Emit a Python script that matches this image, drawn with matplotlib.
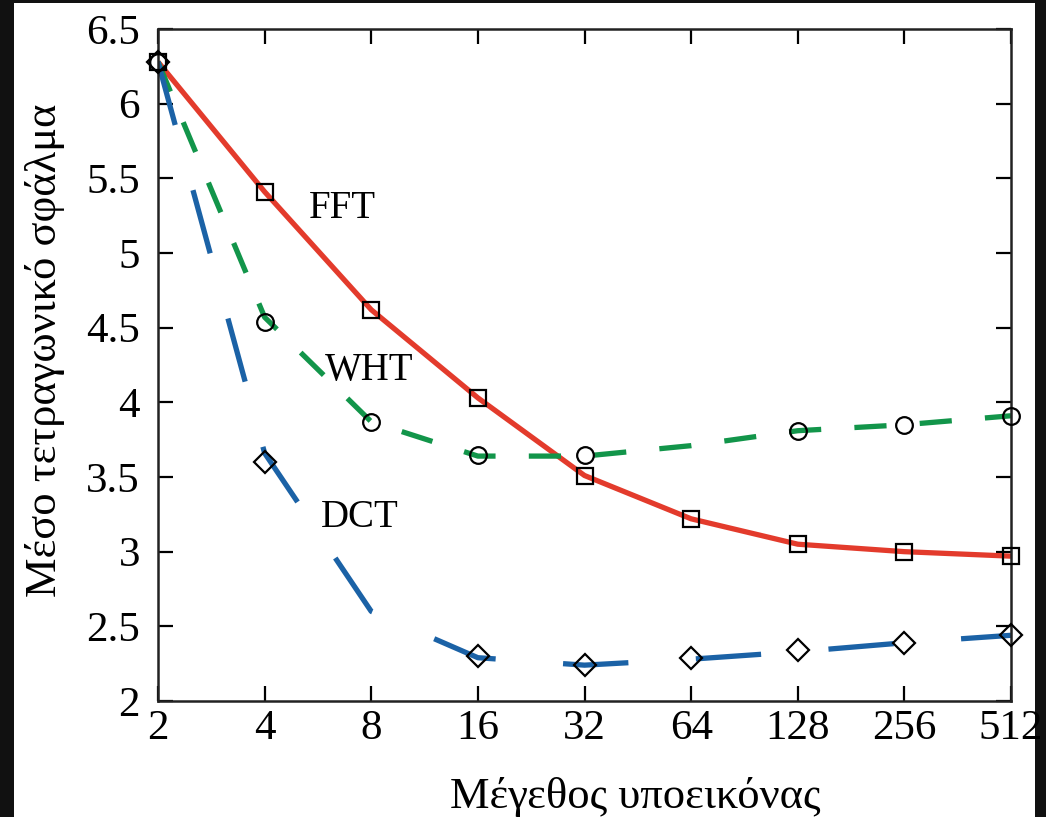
import matplotlib
matplotlib.use("Agg")
import matplotlib.pyplot as plt
from matplotlib.patches import Rectangle

# block sizes (x axis, log2 scale)
sizes = [2, 4, 8, 16, 32, 64, 128, 256, 512]
size_labels = ["2", "4", "8", "16", "32", "64", "128", "256", "512"]

# mean squared error, line traces
fft_line = [6.28, 5.41, 4.62, 4.03, 3.51, 3.22, 3.05, 3.00, 2.97]
wht_line = [6.28, 4.57, 3.87, 3.64, 3.64, 3.71, 3.81, 3.85, 3.91]
dct_line = [6.28, 3.66, 2.60, 2.29, 2.24, 2.28, 2.33, 2.39, 2.44]

# marker values (None = no marker drawn)
fft_marks = [6.28, 5.41, 4.62, 4.03, 3.51, 3.22, 3.05, 3.00, 2.97]
wht_marks = [6.28, 4.54, 3.87, 3.65, 3.65, None, 3.81, 3.85, 3.91]
dct_marks = [6.28, 3.60, None, 2.30, 2.24, 2.29, 2.34, 2.39, 2.44]

yticks = [2, 2.5, 3, 3.5, 4, 4.5, 5, 5.5, 6, 6.5]
ytick_labels = ["2", "2.5", "3", "3.5", "4", "4.5", "5", "5.5", "6", "6.5"]

RED = "#e33b2c"
GREEN = "#12954a"
BLUE = "#1b62a6"

plt.rcParams["font.family"] = ["Liberation Serif", "DejaVu Serif"]

fig = plt.figure(figsize=(10.46, 8.17), dpi=100, facecolor="#111111")
# white page inside the dark screenshot border
fig.patches.append(Rectangle((14 / 1046, 0), (1035 - 14) / 1046, 1 - 3 / 817,
                             transform=fig.transFigure, facecolor="white",
                             edgecolor="none", zorder=-10))
ax = fig.add_axes([158 / 1046, 1 - 701 / 817, (1011 - 158) / 1046, (701 - 29) / 817])
ax.set_facecolor("none")

ax.set_xscale("log", base=2)

ax.plot(sizes, fft_line, color=RED, lw=3.8, solid_capstyle="butt", zorder=2)
ax.plot(sizes, wht_line, color=GREEN, lw=3.8, ls=(0, (6.1, 6.3)), zorder=2)
ax.plot(sizes, dct_line, color=BLUE, lw=3.8, ls=(0, (12.4, 12.8)), zorder=2)

def marks(vals):
    return [s for s, v in zip(sizes, vals) if v is not None], [v for v in vals if v is not None]

mk = dict(ls="none", mfc="none", mec="black", mew=1.6, zorder=3, clip_on=False)
ax.plot(*marks(fft_marks), marker="s", ms=11.5, **mk)
ax.plot(*marks(wht_marks), marker="o", ms=12, **mk)
ax.plot(*marks(dct_marks), marker="D", ms=11, **mk)

ax.text(6.62, 5.30, "FFT", fontsize=28, ha="center", va="center")
ax.text(7.89, 4.21, "WHT", fontsize=28, ha="center", va="center")
ax.text(7.44, 3.23, "DCT", fontsize=28, ha="center", va="center")

ax.set_xlim(2, 512)
ax.set_ylim(2, 6.5)
ax.set_xticks(sizes)
ax.set_xticklabels(size_labels)
ax.xaxis.set_minor_locator(matplotlib.ticker.NullLocator())
ax.set_yticks(yticks)
ax.set_yticklabels(ytick_labels)

ax.tick_params(direction="in", length=11, width=1.6, labelsize=31,
               top=True, right=True, pad=6)
ax.tick_params(axis="y", pad=13)
for sp in ax.spines.values():
    sp.set_linewidth(1.8)
    sp.set_color("#222222")

fig.text(450 / 1046, 1 - 808 / 817, "Μέγεθος υποεικόνας", fontsize=32,
         ha="left", va="baseline")
fig.text(45 / 1046, 1 - 350 / 817, "Μέσο τετραγωνικό σφάλμα", fontsize=32,
         ha="center", va="center", rotation=90)

fig.savefig("out.png", dpi=100, facecolor=fig.get_facecolor())
